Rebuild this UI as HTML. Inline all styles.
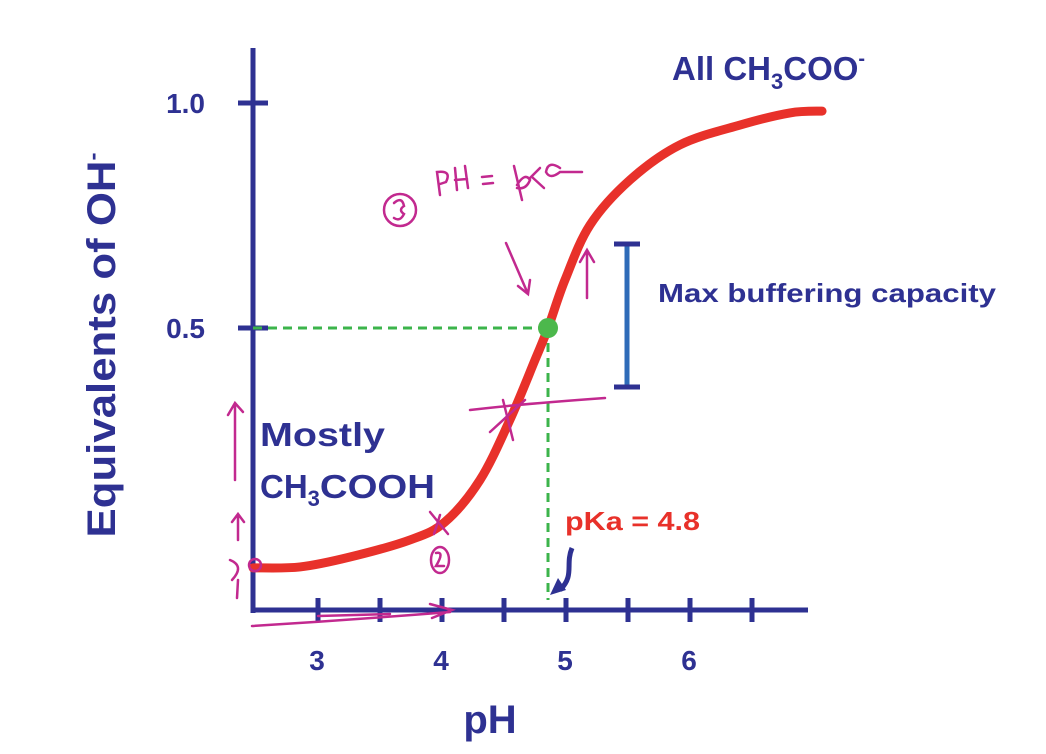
<!DOCTYPE html>
<html><head><meta charset="utf-8"><style>
html,body{margin:0;padding:0;background:#fff;}
svg{display:block;}
text{font-family:"Liberation Sans",sans-serif;font-weight:bold;}
</style></head><body>
<svg id="chart" width="1046" height="754" viewBox="0 0 1046 754">
<g id="axes"></g>
<g id="marks"></g>
<g id="notes">
 <text transform="translate(115,345) rotate(-90)" text-anchor="middle" font-size="40" fill="#2e3192" textLength="385" lengthAdjust="spacingAndGlyphs">Equivalents of OH<tspan dy="-15" font-size="22">-</tspan></text>
 <text x="490" y="733" text-anchor="middle" font-size="40" fill="#2e3192">pH</text>
 <text x="672" y="80" font-size="33" fill="#2e3192">All CH<tspan dy="9" font-size="22">3</tspan><tspan dy="-9">COO</tspan><tspan dy="-15" font-size="20">-</tspan></text>
 <text x="658" y="302" font-size="26" fill="#2e3192" textLength="338" lengthAdjust="spacingAndGlyphs">Max buffering capacity</text>
 <text x="260" y="446" font-size="33" fill="#2e3192" textLength="125" lengthAdjust="spacingAndGlyphs">Mostly</text>
 <text x="260" y="498" font-size="33" fill="#2e3192">CH<tspan dy="8" font-size="22">3</tspan><tspan dy="-8" textLength="115" lengthAdjust="spacingAndGlyphs">COOH</tspan></text>
 <text x="565" y="530" font-size="26" fill="#e8312a" textLength="135" lengthAdjust="spacingAndGlyphs">pKa = 4.8</text>
 <g stroke="#2e6bb8" stroke-width="5">
  <line x1="627" y1="244" x2="627" y2="387"/>
 </g>
 <g stroke="#2e3192" stroke-width="5"><line x1="614" y1="244" x2="640" y2="244"/><line x1="614" y1="387" x2="640" y2="387"/></g>
 <path d="M572 548 C565 565,575 575,560 590" stroke="#2e3192" stroke-width="5" fill="none"/>
 <path d="M550 595 L566 590 L558 578 Z" fill="#2e3192"/>
 <g stroke="#c2298f" stroke-width="2.5" fill="none" stroke-linecap="round">
  <circle cx="400" cy="210" r="16"/>
  <path d="M394 203 Q402 196 404 206 Q398 210 404 214 Q400 222 394 218"/>
  <path d="M440 195 L437 172 Q452 170 446 182 L440 184 M455 168 L457 190 M465 166 L468 188 M455 180 L467 179"/>
  <path d="M482 177 L492 176 M483 184 L493 183"/>
  <path d="M522 200 L514 166 M517 185 Q525 172 530 180 Q526 190 517 188 M530 178 L540 168 M532 177 L544 188 M560 168 Q548 160 546 172 Q550 180 560 172 L582 172"/>
  <path d="M506 243 L528 294 M518 286 L528 294 L530 280"/>
  <path d="M587 298 L587 250 M580 262 L587 250 L594 262"/>
  <path d="M470 410 Q520 404 605 398 M490 432 L525 400 M503 400 L513 440"/>
  <path d="M235 480 L235 405 M228 415 L235 403 L243 412"/>
  <path d="M238 540 L238 515 M232 522 L238 514 L244 522"/>
  <path d="M238 580 L237 598 M230 560 Q245 566 232 580"/>
  <circle cx="255" cy="565" r="6"/>
  <path d="M430 512 L448 534 M440 515 L434 534"/>
  <ellipse cx="440" cy="560" rx="9" ry="13"/>
  <path d="M436 553 Q445 551 436 566 L444 566"/>
  <path d="M252 626 Q350 620 450 612 M430 604 L452 610 L432 618 M318 616 L390 614"/>
 </g>
</g>
</svg>
<script>
const xTickLabels=["3","4","5","6"];
const xTickLabelVals=[3,4,5,6];
const xTickVals=[3,3.5,4,4.5,5,5.5,6,6.5];
const yTickLabels=["0.5","1.0"];
const yTickVals=[0.5,1.0];
const phVals=[2.476,2.855,3.258,3.742,4.024,4.306,4.548,4.75,4.855,4.992,5.194,5.516,5.919,6.403,6.806,7.065];
const eqVals=[-0.033,-0.031,-0.009,0.029,0.069,0.162,0.296,0.429,0.5,0.607,0.729,0.829,0.907,0.951,0.978,0.982];
const pKaVal=4.855;
const halfEq=0.5;
const NS="http://www.w3.org/2000/svg";
const X=v=>318+(v-3)*124;
const Y=v=>553-v*450;
function mk(tag,attrs,parent){const e=document.createElementNS(NS,tag);for(const k in attrs)e.setAttribute(k,attrs[k]);parent.appendChild(e);return e;}
const axes=document.getElementById('axes'),marks=document.getElementById('marks');
const navy="#2e3192";
const ya=mk('line',{x1:253,y1:48,x2:253,y2:613,stroke:navy,'stroke-width':5},axes);


const xa=mk('line',{x1:251,y1:610,x2:808,y2:610,stroke:navy,'stroke-width':5},axes);


xTickVals.forEach(v=>{const t=mk('line',{x1:X(v),y1:598,x2:X(v),y2:622,stroke:navy,'stroke-width':5},axes);

});
xTickLabels.forEach((l,i)=>{const t=mk('text',{x:X(xTickLabelVals[i])-1,y:670,'text-anchor':'middle','font-size':28,fill:navy},axes);t.textContent=l;

});
yTickVals.forEach((v,i)=>{const t=mk('line',{x1:238,y1:Y(v),x2:268,y2:Y(v),stroke:navy,'stroke-width':5},axes);


const tx=mk('text',{x:205,y:Y(v)+10,'text-anchor':'end','font-size':28,fill:navy},axes);tx.textContent=yTickLabels[i];

});
const h=mk('line',{x1:253,y1:Y(halfEq),x2:X(pKaVal),y2:Y(halfEq),stroke:'#3cb44b','stroke-width':3,'stroke-dasharray':'9,6'},marks);


const vl=mk('line',{x1:X(pKaVal),y1:Y(halfEq),x2:X(pKaVal),y2:600,stroke:'#3cb44b','stroke-width':3,'stroke-dasharray':'9,6'},marks);


const pts=phVals.map((p,i)=>[X(p),Y(eqVals[i])]);
let d=`M${pts[0][0]},${pts[0][1]}`;
for(let i=0;i<pts.length-1;i++){const p0=pts[i-1]||pts[i],p1=pts[i],p2=pts[i+1],p3=pts[i+2]||p2;
d+=` C${p1[0]+(p2[0]-p0[0])/6},${p1[1]+(p2[1]-p0[1])/6} ${p2[0]-(p3[0]-p1[0])/6},${p2[1]-(p3[1]-p1[1])/6} ${p2[0]},${p2[1]}`;}
const c=mk('path',{d:d,stroke:'#e8312a','stroke-width':9,fill:'none','stroke-linecap':'round'},marks);


const dot=mk('circle',{cx:X(pKaVal),cy:Y(halfEq),r:10,fill:'#4cb84c'},marks);


</script>
</body></html>
